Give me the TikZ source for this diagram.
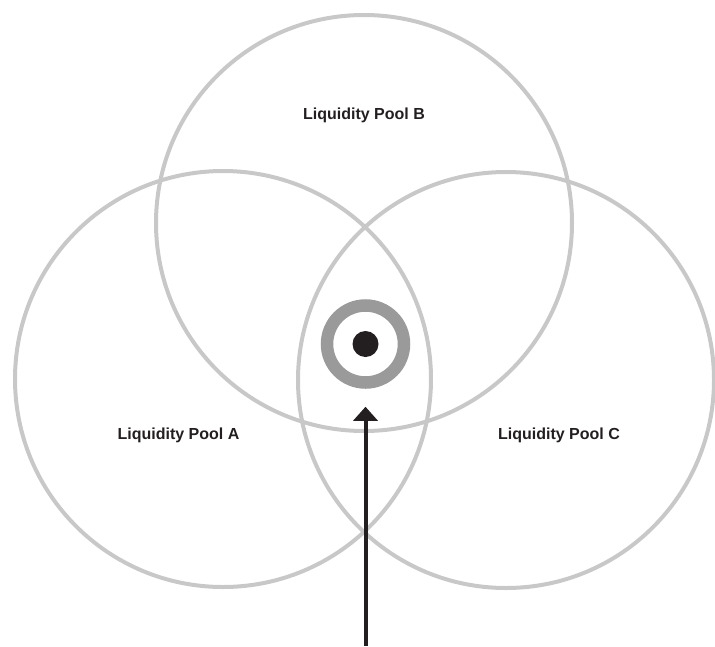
\documentclass[tikz,border=0pt]{standalone}
\usepackage{fontspec}
\setmainfont{Liberation Sans}
\usetikzlibrary{arrows.meta}
\definecolor{poolgray}{HTML}{C8C8C8}
\definecolor{ringgray}{HTML}{9A9A9A}
\definecolor{ink}{HTML}{231F20}
\tikzset{
  pool/.style={circle, draw=poolgray, line width=4pt, minimum size=416pt, inner sep=0pt},
  poollabel/.style={font=\bfseries\fontsize{16}{19}\selectfont, text=ink, inner sep=0pt},
  ring/.style={circle, draw=ringgray, line width=12.5pt, minimum size=77pt, inner sep=0pt},
  bull/.style={circle, fill=ink, minimum size=26pt, inner sep=0pt},
  pointer/.style={draw=ink, line width=4pt, -{Triangle[width=24pt,length=14pt]}}
}
\begin{document}
\begin{tikzpicture}[x=1pt,y=-1pt]
  \useasboundingbox (0,0) rectangle (715,646);
  \node[pool] (B) at (364,223) {};
  \node[pool] (A) at (223,379) {};
  \node[pool] (C) at (506,380) {};
  \node[poollabel] (lB) at (364,115) {Liquidity Pool B};
  \node[poollabel] (lA) at (178.5,435) {Liquidity Pool A};
  \node[poollabel] (lC) at (559,435) {Liquidity Pool C};
  \node[ring] (target) at (365.5,344) {};
  \node[bull] (dot) at (365.5,344) {};
  \coordinate (base) at (365.5,646);
  \draw[pointer] (base) -- ([yshift=-18pt]target.south);
\end{tikzpicture}
\end{document}
